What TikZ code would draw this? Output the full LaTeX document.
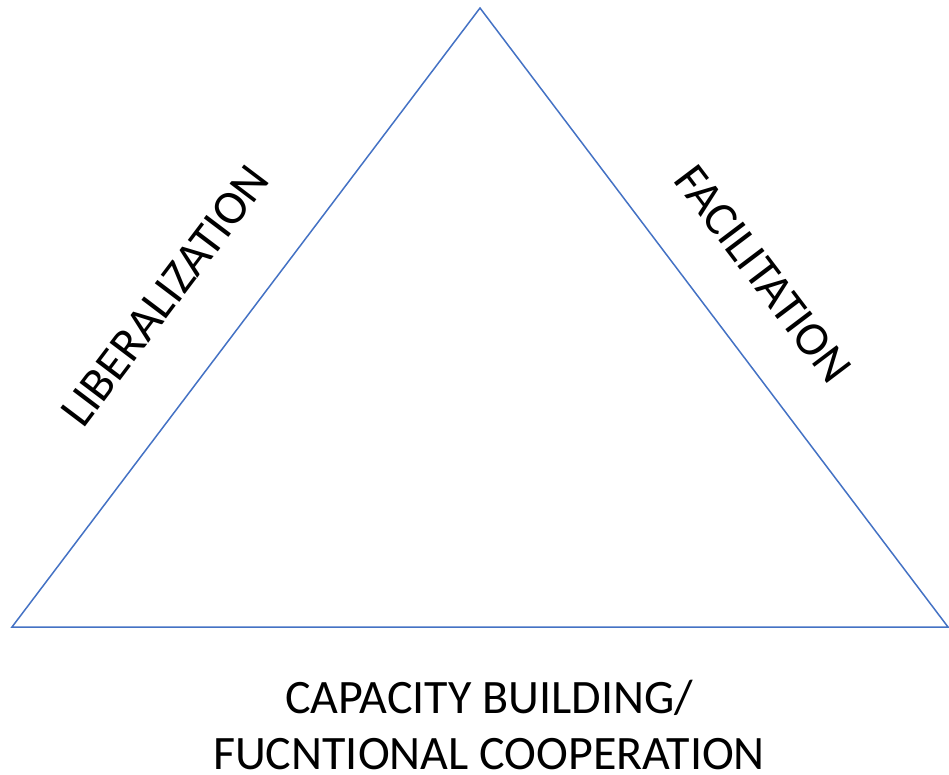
\documentclass[tikz,border=0pt]{standalone}
\usepackage{fontspec}
\setmainfont{Carlito}
\usepackage{tikz}
\usetikzlibrary{positioning,calc}
\usepackage{xcolor}
\definecolor{sideblue}{RGB}{68,114,196}

\begin{document}
\begin{tikzpicture}[x=1pt,y=-1pt,
    side/.style={draw=sideblue,line width=1.5pt,line join=miter},
    sidelabel/.style={font=\fontsize{48}{56}\selectfont,inner sep=0pt}]
                \useasboundingbox (0,0) rectangle (949,774);
                % corners of the triangle
                \coordinate (top) at (480,8);
                \coordinate (left) at (12,627);
                \coordinate (right) at (948,627);
                \draw[side] (left) -- (top) -- (right) -- cycle;
                % labels along the sides
                \node[sidelabel,rotate=52.9] (lib) at (165,296) {LIBERALIZATION};
                \node[sidelabel,rotate=-52.9] (fac) at (763,274) {FACILITATION};
                \node[sidelabel,align=center] (cap) at (489,725) {CAPACITY BUILDING/\\FUCNTIONAL COOPERATION};
            \end{tikzpicture}
\end{document}
